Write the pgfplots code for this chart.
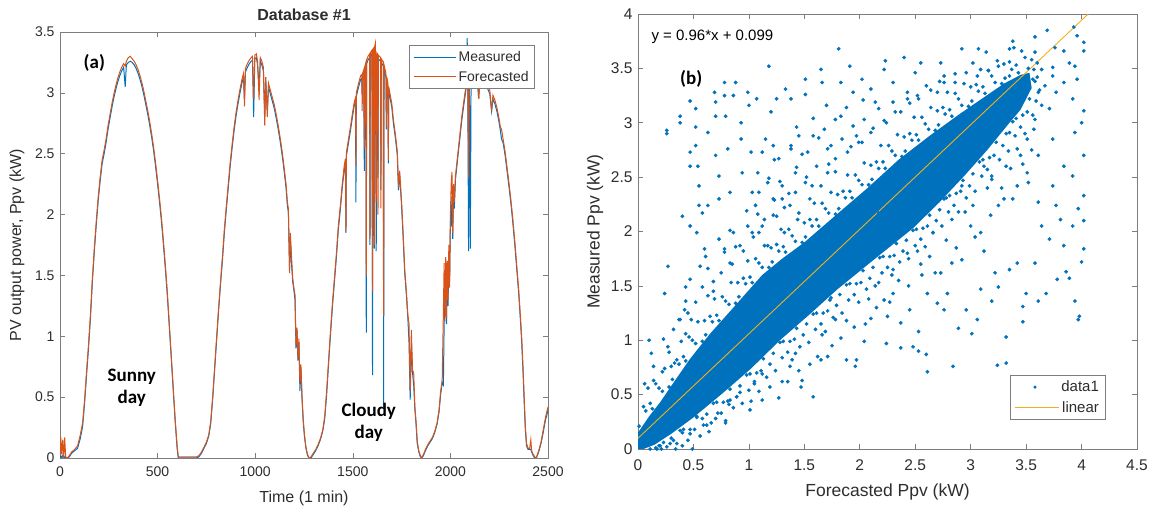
\documentclass[border=0pt]{standalone}
\usepackage{fontspec}
\setmainfont{Liberation Sans}
\newfontfamily\calibri{Carlito}
\usepackage{pgfplots}
\usepackage{pgfplotstable}
\pgfplotsset{compat=1.18}
\definecolor{mblue}{RGB}{0,114,189}
\definecolor{morange}{RGB}{217,83,25}
\definecolor{myellow}{RGB}{237,177,32}
\definecolor{framegray}{RGB}{125,125,125}
\definecolor{txtgray}{RGB}{45,45,45}

\pgfplotstableread{
t M F
0 0.00 0.02
4 0.02 0.17
9 0.00 0.03
14 0.02 0.15
19 0.00 0.00
24 0.01 0.17
29 0.00 0.01
38 0.00 0.00
48 0.01 0.02
60 0.04 0.05
75 0.06 0.07
90 0.08 0.10
104 0.16 0.19
116 0.26 0.29
126 0.45 0.48
136 0.68 0.71
146 0.90 0.93
156 1.15 1.18
166 1.45 1.48
176 1.70 1.73
186 1.92 1.95
196 2.12 2.15
206 2.28 2.31
216 2.42 2.45
226 2.50 2.53
236 2.59 2.62
246 2.70 2.73
256 2.79 2.82
266 2.88 2.91
276 2.96 2.99
286 3.03 3.06
296 3.09 3.12
306 3.14 3.17
316 3.18 3.21
326 3.21 3.24
334 3.05 3.22
340 3.23 3.26
350 3.25 3.29
360 3.26 3.30
370 3.25 3.28
380 3.23 3.26
390 3.20 3.23
400 3.16 3.19
410 3.11 3.14
420 3.05 3.08
430 2.98 3.01
440 2.90 2.93
450 2.82 2.85
460 2.73 2.76
470 2.63 2.66
480 2.52 2.55
490 2.39 2.42
500 2.25 2.28
510 2.10 2.13
520 1.94 1.97
530 1.75 1.78
540 1.55 1.58
550 1.33 1.36
560 1.08 1.10
570 0.82 0.84
580 0.56 0.58
590 0.30 0.32
600 0.08 0.10
606 0.00 0.01
700 0.00 0.01
712 0.01 0.02
725 0.04 0.05
738 0.08 0.09
750 0.12 0.13
762 0.18 0.19
772 0.28 0.30
782 0.48 0.50
792 0.72 0.74
802 0.96 0.98
812 1.20 1.22
822 1.42 1.44
832 1.62 1.65
842 1.85 1.88
852 2.04 2.07
862 2.22 2.25
872 2.40 2.43
882 2.55 2.58
892 2.69 2.72
902 2.81 2.84
912 2.91 2.94
922 3.00 3.03
932 3.08 3.11
940 3.13 3.16
945 2.95 2.89
950 3.17 3.20
960 3.21 3.24
970 3.24 3.27
980 3.26 3.29
986 3.27 3.30
992 2.80 2.95
998 3.28 3.31
1006 3.29 3.32
1012 3.23 3.26
1020 3.05 2.94
1026 3.26 3.29
1034 3.23 3.26
1042 3.18 3.21
1049 2.80 2.73
1054 3.10 3.13
1062 2.85 2.80
1068 3.05 3.08
1078 2.99 3.02
1088 2.93 2.96
1098 2.87 2.90
1108 2.79 2.82
1118 2.70 2.73
1128 2.60 2.63
1138 2.49 2.52
1148 2.36 2.39
1158 2.22 2.25
1165 2.07 2.10
1170 2.02 2.05
1176 1.55 1.52
1180 1.80 1.85
1186 1.60 1.66
1192 1.45 1.48
1198 1.38 1.40
1204 1.30 1.34
1209 0.90 0.93
1214 1.05 1.07
1219 0.80 0.82
1224 0.95 0.98
1229 0.55 0.62
1234 0.75 0.77
1240 0.48 0.50
1246 0.30 0.32
1252 0.18 0.20
1260 0.08 0.09
1268 0.02 0.03
1276 0.00 0.00
1286 0.00 0.01
1298 0.03 0.04
1310 0.06 0.07
1322 0.10 0.11
1334 0.15 0.16
1346 0.22 0.23
1356 0.32 0.34
1366 0.52 0.55
1376 0.78 0.80
1386 1.02 1.05
1396 1.25 1.28
1406 1.45 1.48
1416 1.65 1.68
1426 1.88 1.91
1436 2.04 2.07
1446 2.22 2.25
1456 2.37 2.40
1462 2.43 2.46
1465 1.85 1.86
1467 2.48 2.51
1478 2.59 2.62
1488 2.69 2.72
1498 2.80 2.83
1508 2.90 2.93
1514 2.93 2.96
1516 2.10 2.40
1518 2.97 3.00
1530 3.05 3.08
1540 3.11 3.14
1546 3.12 3.15
1548 3.00 2.85
1550 3.13 3.16
1556 3.16 3.19
1559 2.36 2.55
1562 3.19 3.22
1567 3.22 3.25
1569 1.03 1.50
1571 3.24 3.27
1578 3.27 3.30
1586 3.29 3.32
1588 1.75 1.80
1590 3.30 3.33
1598 3.32 3.35
1601 0.68 1.37
1604 3.33 3.36
1608 3.34 3.37
1610 1.72 1.75
1612 3.35 3.38
1616 3.33 3.41
1620 1.70 2.10
1623 3.30 3.33
1627 3.29 3.32
1629 2.30 2.00
1631 3.28 3.31
1642 3.26 3.29
1644 2.20 2.05
1646 3.25 3.28
1656 3.22 3.25
1658 0.42 1.17
1660 3.20 3.23
1670 3.13 3.16
1672 2.70 2.72
1674 3.10 3.13
1680 3.05 3.08
1682 2.42 2.45
1684 3.02 3.05
1692 2.95 2.98
1700 2.88 2.91
1708 2.75 2.78
1718 2.63 2.66
1728 2.49 2.52
1734 2.20 2.22
1740 2.33 2.36
1750 2.07 2.10
1758 1.81 1.84
1766 1.52 1.55
1774 1.35 1.38
1782 1.15 1.18
1788 0.95 1.10
1794 0.48 0.55
1800 0.95 1.05
1806 0.70 0.72
1812 0.60 0.70
1818 0.40 0.42
1824 0.28 0.30
1830 0.12 0.14
1838 0.05 0.06
1846 0.01 0.02
1852 0.00 0.00
1862 0.02 0.03
1872 0.06 0.07
1884 0.10 0.11
1896 0.13 0.14
1908 0.16 0.17
1920 0.21 0.22
1932 0.28 0.29
1942 0.38 0.40
1950 0.52 0.55
1958 0.62 0.64
1964 0.60 1.20
1968 1.10 1.60
1972 1.35 1.12
1976 1.60 1.65
1980 1.10 1.15
1984 1.55 1.62
1988 1.25 1.30
1992 1.70 1.75
1996 1.45 1.40
2000 1.95 2.00
2004 1.90 2.25
2008 2.15 2.35
2012 1.80 1.85
2016 2.20 2.25
2020 2.05 2.10
2026 2.29 2.32
2034 2.41 2.44
2042 2.53 2.56
2050 2.65 2.68
2058 2.77 2.80
2066 2.87 2.90
2074 2.96 2.99
2080 3.03 3.06
2086 3.45 3.30
2089 3.07 3.10
2093 1.70 2.30
2097 3.13 3.16
2102 1.72 3.15
2106 3.15 3.18
2116 3.17 3.20
2126 3.18 3.21
2136 3.17 3.20
2145 2.95 2.95
2152 3.15 3.18
2162 3.13 3.16
2172 3.10 3.13
2182 3.07 3.10
2192 3.03 3.06
2202 2.99 3.02
2211 2.85 2.85
2218 2.95 2.98
2228 2.91 2.94
2238 2.85 2.88
2248 2.77 2.80
2256 2.69 2.72
2262 2.62 2.70
2270 2.59 2.62
2280 2.49 2.52
2290 2.36 2.39
2300 2.23 2.26
2310 2.09 2.12
2320 1.93 1.96
2330 1.75 1.78
2340 1.55 1.58
2350 1.35 1.38
2358 1.15 1.18
2365 0.96 1.00
2372 0.71 0.75
2378 0.46 0.50
2384 0.23 0.26
2390 0.10 0.12
2398 0.07 0.08
2406 0.07 0.08
2412 0.07 0.15
2416 0.05 0.06
2424 0.02 0.03
2432 0.00 0.01
2440 0.00 0.00
2448 0.03 0.04
2456 0.07 0.08
2464 0.12 0.13
2472 0.18 0.20
2480 0.25 0.27
2488 0.32 0.34
2494 0.35 0.38
2500 0.40 0.42
}\tsdata

\pgfplotstableread{
x y
0.26 2.93
0.26 2.90
0.38 3.06
0.38 3.00
0.47 3.20
0.47 2.73
0.47 2.60
0.52 3.13
0.52 2.96
0.52 2.79
0.54 2.60
0.55 2.42
0.55 2.24
0.58 2.17
0.63 2.91
0.63 2.24
0.69 3.28
0.70 3.19
0.70 3.06
0.70 2.70
0.73 2.51
0.73 2.30
0.78 3.37
0.78 3.25
0.79 3.06
0.81 2.76
0.83 2.36
0.88 3.37
0.86 3.25
0.93 3.00
0.93 2.85
0.94 2.54
0.99 3.28
1.00 3.16
1.02 2.73
1.07 3.22
1.08 2.54
1.09 2.36
1.12 2.73
1.15 2.85
1.18 3.52
1.17 2.45
1.20 3.10
1.22 2.79
1.25 3.22
1.27 2.67
1.30 2.30
1.33 3.31
1.38 3.22
1.38 2.76
1.42 2.54
1.45 2.88
1.51 3.26
1.51 3.40
1.53 2.73
1.58 2.88
1.65 3.49
1.66 3.37
1.70 3.16
1.71 2.76
1.78 3.03
1.81 3.68
1.83 3.37
1.91 3.52
1.94 3.28
1.97 2.88
2.02 3.40
2.10 3.31
2.14 3.19
2.22 3.49
2.23 3.57
2.30 3.37
2.40 3.60
2.43 3.22
2.50 3.46
2.55 3.55
2.73 3.55
2.76 3.37
2.92 3.68
3.07 3.68
3.14 3.65
3.35 3.68
3.38 3.75
3.58 3.79
3.69 3.85
3.76 3.69
3.84 3.66
3.93 3.88
3.96 3.80
4.02 3.74
4.02 3.66
3.94 3.52
3.96 3.40
3.89 3.55
3.74 3.51
3.74 3.43
3.64 3.49
3.58 3.65
3.53 3.31
3.67 3.34
3.77 3.28
3.84 3.37
3.92 3.22
4.02 3.11
4.00 3.00
3.94 2.91
4.02 2.70
3.92 2.51
4.02 2.33
3.97 2.21
3.84 2.60
3.74 2.85
3.71 3.13
3.57 2.94
3.61 2.70
3.51 2.54
3.74 2.42
3.77 2.24
3.61 2.27
3.45 2.70
3.42 2.42
3.30 2.30
3.64 2.05
3.81 2.11
3.92 2.05
4.02 2.10
4.02 1.84
3.84 1.87
3.71 1.93
3.86 1.63
3.89 1.57
4.00 1.72
3.94 1.36
3.97 1.19
3.98 1.22
3.78 1.56
3.68 1.43
3.61 1.36
3.50 1.43
3.47 1.31
3.47 1.17
3.42 1.71
3.32 1.03
3.32 0.79
3.24 0.77
3.25 1.49
3.19 1.36
3.09 1.47
3.06 1.19
3.01 1.06
2.96 1.28
2.89 1.11
2.84 0.76
2.79 1.43
2.76 1.28
2.70 1.34
2.61 0.71
2.60 0.87
2.53 0.90
2.53 1.08
2.48 0.94
2.61 1.43
2.56 1.60
2.45 1.28
2.37 0.93
2.37 1.16
2.30 1.43
2.25 1.22
2.24 0.97
2.22 1.37
2.17 1.53
2.10 1.20
2.04 0.99
1.97 0.82
1.96 0.76
1.88 0.82
1.78 1.19
1.74 1.39
1.71 0.85
1.65 0.82
1.58 0.48
1.48 0.63
1.47 0.57
1.42 0.88
1.37 0.76
1.30 0.62
1.27 0.47
1.19 0.57
1.12 0.45
1.01 0.36
1.02 0.44
0.89 0.48
0.83 0.45
0.79 0.24
0.66 0.24
0.47 0.14
0.53 0.30
2.30 1.65
2.43 1.80
2.63 1.77
2.92 1.74
3.12 1.82
3.35 1.65
3.58 1.71
3.22 1.62
2.73 1.62
2.83 1.71
0.10 1.00
0.12 0.88
0.14 0.76
0.27 0.94
0.27 1.68
0.24 1.43
0.33 0.79
0.37 1.19
0.42 1.28
0.43 1.49
0.47 1.56
0.56 1.68
0.61 1.77
0.06 0.60
0.14 0.63
0.40 2.14
0.47 2.05
0.53 1.99
0.60 1.84
0.73 1.93
0.78 1.81
0.86 1.99
0.92 1.87
0.99 2.05
1.06 2.24
1.09 1.99
1.14 2.11
1.17 1.87
1.22 2.30
1.25 2.14
1.30 2.42
1.32 1.99
1.37 2.24
1.42 2.36
1.45 2.17
1.51 2.45
1.55 2.30
1.61 2.60
1.65 2.42
1.71 2.54
1.74 2.79
1.78 2.67
1.84 2.85
1.89 2.73
1.94 2.97
1.99 2.82
2.04 3.03
2.10 2.91
2.17 3.13
2.24 3.00
2.30 3.19
2.37 3.10
2.43 3.28
2.53 3.22
2.60 3.34
2.70 3.28
2.76 3.43
2.86 3.37
2.96 3.46
3.06 3.43
3.16 3.48
3.25 3.52
3.35 3.43
2.10 1.99
2.17 2.17
2.27 2.24
2.33 1.99
2.43 2.11
2.50 2.36
2.60 2.17
2.66 1.99
2.76 2.30
2.83 2.11
2.92 2.42
3.02 2.24
3.09 1.99
3.19 2.48
3.25 2.24
3.32 2.60
3.42 2.76
3.51 2.85
3.35 2.91
3.58 3.03
3.64 3.16
3.48 3.22
3.61 3.28
2.83 2.60
2.96 2.70
3.09 2.79
2.70 2.54
2.56 2.42
2.43 2.36
2.37 2.48
3.12 2.60
2.30 1.99
2.04 1.81
1.94 1.87
0.62 0.22
0.72 0.33
0.82 0.41
0.92 0.52
1.05 0.62
1.12 0.69
0.58 0.28
0.35 0.05
0.30 0.10
0.20 0.03
0.40 0.15
0.22 0.71
0.28 0.89
0.43 1.06
0.48 1.19
0.63 1.41
0.68 1.54
0.83 1.71
0.88 1.86
1.03 1.99
1.08 2.16
1.23 2.29
1.28 2.46
1.43 2.59
1.48 2.71
1.63 2.86
1.68 2.94
1.83 3.06
1.88 3.14
2.03 3.21
0.23 1.01
0.38 1.19
0.43 1.36
0.58 1.49
0.63 1.66
0.78 1.84
0.83 2.01
0.98 2.19
1.03 2.36
1.18 2.49
1.23 2.66
1.38 2.79
1.43 2.96
1.58 3.04
1.62 0.85
1.83 1.02
2.05 1.15
2.27 1.35
2.44 1.50
2.68 1.62
2.87 1.85
3.04 1.95
3.18 2.15
3.38 2.30
3.52 2.45
3.47 2.62
3.28 2.40
3.00 2.05
2.78 1.92
2.55 1.70
2.35 1.55
2.15 1.30
1.95 1.12
1.75 0.95
1.55 0.78
1.35 0.62
1.45 0.72
1.66 1.05
1.88 1.18
2.08 1.38
2.52 1.82
2.95 2.18
3.15 2.40
3.36 2.58
3.55 2.75
0.32 1.10
0.52 1.35
0.68 1.45
0.85 1.70
1.04 1.95
1.22 2.15
1.36 2.35
1.52 2.50
1.72 2.62
1.92 2.78
2.12 2.95
2.32 3.10
2.52 3.25
2.72 3.38
2.86 3.45
0.45 1.25
0.75 1.62
0.95 1.82
1.12 2.05
1.32 2.22
1.57 2.42
1.78 2.55
2.02 2.82
2.22 3.02
2.45 3.18
2.64 3.30
3.02 3.55
0.01 0.21
0.05 0.39
0.07 0.35
0.09 0.56
0.11 0.42
0.13 0.37
0.16 0.60
0.19 0.56
0.22 0.53
0.24 0.74
0.28 0.57
0.30 0.76
0.31 0.64
0.35 0.82
0.37 0.78
0.39 0.99
0.41 0.85
0.43 0.81
0.46 1.03
0.49 1.00
0.52 0.97
0.54 1.17
0.58 0.99
0.60 1.18
0.61 1.05
0.65 1.22
0.67 1.17
0.69 1.38
0.71 1.23
0.73 1.18
0.76 1.40
0.79 1.36
0.82 1.33
0.84 1.53
0.88 1.34
0.90 1.53
0.91 1.40
0.95 1.57
0.97 1.52
0.99 1.73
1.01 1.58
1.03 1.53
1.06 1.75
1.09 1.71
1.12 1.67
1.14 1.87
1.18 1.67
1.20 1.85
1.21 1.72
1.25 1.88
1.27 1.82
1.29 2.02
1.31 1.86
1.33 1.81
1.36 2.02
1.39 1.96
1.42 1.91
1.44 2.11
1.48 1.90
1.50 2.08
1.51 1.95
1.55 2.11
1.57 2.05
1.59 2.26
1.61 2.11
1.63 2.05
1.66 2.26
1.69 2.21
1.72 2.17
1.74 2.36
1.78 2.16
1.80 2.34
1.81 2.21
1.85 2.37
1.87 2.31
1.89 2.52
1.91 2.37
1.93 2.31
1.96 2.52
1.99 2.47
2.02 2.43
2.04 2.63
2.08 2.43
2.10 2.61
2.11 2.48
2.15 2.64
2.17 2.58
2.19 2.79
2.21 2.64
2.23 2.58
2.26 2.79
2.29 2.74
2.32 2.70
2.34 2.89
2.38 2.69
2.40 2.87
2.41 2.74
2.45 2.90
2.47 2.84
2.49 3.05
2.51 2.89
2.53 2.84
2.56 3.05
2.59 2.99
2.62 2.94
2.64 3.14
2.68 2.93
2.70 3.11
2.71 2.98
2.75 3.14
2.77 3.08
2.79 3.28
2.81 3.12
2.83 3.06
2.86 3.27
2.89 3.22
2.92 3.16
2.94 3.36
2.98 3.15
3.00 3.33
3.01 3.20
3.05 3.35
3.07 3.29
3.09 3.49
3.11 3.33
3.13 3.27
3.16 3.48
3.19 3.43
3.22 3.37
3.24 3.57
3.28 3.36
3.30 3.54
3.31 3.41
3.35 3.56
3.37 3.49
3.39 3.69
3.41 3.53
3.43 3.46
3.46 3.66
3.49 3.60
3.52 3.50
3.55 3.58
3.57 3.49
3.60 3.55
0.11 0.00
0.16 0.01
0.17 0.00
0.19 0.03
0.21 0.00
0.23 0.06
0.26 0.02
0.29 0.05
0.32 0.08
0.34 0.00
0.38 0.17
0.40 0.03
0.41 0.18
0.45 0.08
0.47 0.18
0.49 0.00
0.51 0.18
0.53 0.29
0.56 0.12
0.59 0.22
0.62 0.32
0.64 0.16
0.68 0.42
0.70 0.28
0.71 0.43
0.75 0.33
0.77 0.43
0.79 0.26
0.81 0.44
0.83 0.55
0.86 0.38
0.89 0.48
0.92 0.58
0.94 0.42
0.98 0.68
1.00 0.54
1.01 0.69
1.05 0.60
1.07 0.70
1.09 0.53
1.11 0.72
1.13 0.83
1.16 0.66
1.19 0.78
1.22 0.88
1.24 0.72
1.28 0.98
1.30 0.84
1.31 0.99
1.35 0.89
1.37 0.99
1.39 0.82
1.41 1.01
1.43 1.11
1.46 0.94
1.49 1.05
1.52 1.15
1.54 0.98
1.58 1.24
1.60 1.10
1.61 1.25
1.65 1.15
1.67 1.25
1.69 1.08
1.71 1.27
1.73 1.37
1.76 1.21
1.79 1.32
1.82 1.42
1.84 1.25
1.88 1.51
1.90 1.37
1.91 1.52
1.95 1.42
1.97 1.52
1.99 1.35
2.01 1.53
2.03 1.64
2.06 1.47
2.09 1.57
2.12 1.67
2.14 1.50
2.18 1.76
2.20 1.62
2.21 1.77
2.25 1.67
2.27 1.77
2.29 1.60
2.31 1.78
2.33 1.89
2.36 1.72
2.39 1.82
2.42 1.92
2.44 1.75
2.48 2.01
2.50 1.87
2.51 2.02
2.55 1.93
2.57 2.03
2.59 1.86
2.61 2.05
2.63 2.15
2.66 1.99
2.69 2.10
2.72 2.20
2.74 2.05
2.78 2.31
2.80 2.18
2.81 2.33
2.85 2.24
2.87 2.35
2.89 2.18
2.91 2.37
2.93 2.47
2.96 2.31
2.99 2.42
3.02 2.53
3.04 2.37
3.08 2.64
3.10 2.51
3.11 2.66
3.15 2.57
3.17 2.68
3.19 2.51
3.21 2.70
3.23 2.82
3.26 2.66
3.29 2.79
3.32 2.90
3.34 2.74
3.38 3.01
3.40 2.88
3.41 3.04
3.45 2.96
3.47 3.07
3.49 2.90
3.51 3.10
3.53 3.22
3.56 3.07
3.59 3.20
3.58 3.38
3.62 3.30
3.60 3.42
3.56 3.40
}\scat

\pgfplotsset{
  mystyle/.style={
    scale only axis,
    axis line style={framegray},
    every tick/.style={framegray, line width=0.6pt},
    tick align=inside,
    major tick length=5pt,
    /pgf/number format/assume math mode=true,
    /pgf/number format/1000 sep={},
    ticklabel style={text=txtgray},
    label style={text=txtgray},
  }
}

\begin{document}
\begin{tikzpicture}
\path[use as bounding box] (0pt,0pt) rectangle (1151pt,511pt);

% ---------- panel (a)
\begin{axis}[mystyle,
  at={(60pt,53pt)}, anchor=south west,
  width=488pt, height=426pt,
  xmin=0, xmax=2500, ymin=0, ymax=3.5,
  xtick={0,500,1000,1500,2000,2500},
  ytick={0,0.5,1,1.5,2,2.5,3,3.5},
  yticklabels={0,0.5,1,1.5,2,2.5,3,3.5},
  ticklabel style={font=\fontsize{14}{14}\selectfont},
  xticklabel style={yshift=-5pt},
  yticklabel style={xshift=-2pt},
  xlabel={Time (1 min)},
  ylabel={PV output power, Ppv (kW)},
  label style={font=\fontsize{16}{16}\selectfont},
  xlabel style={at={(axis description cs:0.5,0)}, anchor=center, yshift=-40pt},
  ylabel style={at={(axis description cs:-0.088,0.5)}, anchor=center},
  title={Database \#1},
  title style={font=\bfseries\fontsize{16}{16}\selectfont, text=txtgray, at={(axis description cs:0.5,1)}, anchor=south, yshift=2pt},
  legend style={at={(0.973,0.969)}, anchor=north east, draw=framegray,
    font=\fontsize{14}{14}\selectfont, text=txtgray, inner sep=4pt, row sep=4pt},
  legend cell align=left,
]
\addplot[mblue, line width=1pt, forget plot] table[x=t,y=M]{\tsdata};
\addplot[morange, line width=1pt, forget plot] table[x=t,y=F]{\tsdata};
\addlegendimage{legend image code/.code={\draw[mblue,line width=1.1pt] (0pt,0pt) -- (42pt,0pt);}}
\addlegendentry{Measured}
\addlegendimage{legend image code/.code={\draw[morange,line width=1.1pt] (0pt,0pt) -- (42pt,0pt);}}
\addlegendentry{Forecasted}
\node[font=\calibri\bfseries\fontsize{19}{22}\selectfont, text=black] at (axis cs:176,3.25) {(a)};
\node[font=\calibri\bfseries\fontsize{19}{22}\selectfont, text=black, align=center] at (axis cs:368,0.575) {Sunny\\day};
\node[font=\calibri\bfseries\fontsize{19}{22}\selectfont, text=black, align=center] at (axis cs:1582,0.29) {Cloudy\\day};
\end{axis}

% ---------- panel (b)
\begin{axis}[mystyle,
  at={(638pt,62pt)}, anchor=south west,
  width=499pt, height=435pt,
  xmin=0, xmax=4.5, ymin=0, ymax=4,
  xtick={0,0.5,1,1.5,2,2.5,3,3.5,4,4.5},
  xticklabels={0,0.5,1,1.5,2,2.5,3,3.5,4,4.5},
  ytick={0,0.5,1,1.5,2,2.5,3,3.5,4},
  yticklabels={0,0.5,1,1.5,2,2.5,3,3.5,4},
  ticklabel style={font=\fontsize{15.5}{15.5}\selectfont},
  xticklabel style={yshift=-7pt},
  yticklabel style={xshift=-2pt},
  xlabel={Forecasted Ppv (kW)},
  ylabel={Measured Ppv (kW)},
  label style={font=\fontsize{17.5}{17.5}\selectfont},
  xlabel style={at={(axis description cs:0.5,0)}, anchor=center, yshift=-43pt},
  ylabel style={at={(axis description cs:-0.086,0.5)}, anchor=center},
  legend style={at={(0.936,0.067)}, anchor=south east, draw=framegray,
    font=\fontsize{15}{15}\selectfont, text=txtgray, inner sep=4pt, row sep=4pt},
  legend cell align=right,
]
\addplot[fill=mblue, draw=none, forget plot] coordinates {
(0,0.15) (0.1,0.3) (0.2,0.43) (0.3,0.58) (0.47,0.83) (0.65,1.06) (0.86,1.3)
(1.12,1.6) (1.3,1.75) (1.5,1.9) (1.75,2.12) (2.07,2.4) (2.35,2.66) (2.63,2.88)
(2.9,3.08) (3.1,3.22) (3.3,3.36) (3.45,3.44) (3.53,3.46)
(3.55,3.32) (3.45,3.12) (3.35,3.0) (3.15,2.75) (2.95,2.52) (2.72,2.27) (2.48,2.03)
(2.15,1.76) (1.8,1.47) (1.55,1.24) (1.28,1.0) (1.02,0.74) (0.76,0.51) (0.5,0.29)
(0.3,0.14) (0.15,0.04) (0.05,0.0) (0,0)
} -- cycle;
\addplot[only marks, mark=*, mark size=1.7pt, mblue, forget plot] table[x=x,y=y]{\scat};
\addplot[myellow, line width=0.9pt, forget plot] coordinates {(0,0.099) (4.06,4.0)};
\addlegendimage{legend image code/.code={\node[circle, fill=mblue, draw=none, inner sep=0pt, minimum size=3.4pt] at (22pt,0pt) {}; \path (0pt,0pt) (44pt,0pt);}}
\addlegendentry{data1}
\addlegendimage{legend image code/.code={\draw[myellow,line width=0.9pt] (0pt,0pt) -- (44pt,0pt);}}
\addlegendentry{linear}
\node[anchor=west, font=\fontsize{15}{15}\selectfont, text=black] at (axis cs:0.09,3.79) {y = 0.96*x + 0.099};
\node[font=\calibri\bfseries\fontsize{19}{22}\selectfont, text=black] at (axis cs:0.48,3.40) {(b)};
\end{axis}
\end{tikzpicture}
\end{document}
